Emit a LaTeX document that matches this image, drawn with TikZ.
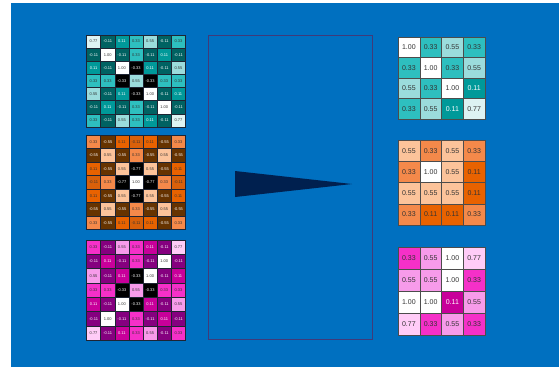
\documentclass[tikz,border=0pt]{standalone}
\usepackage{fontspec}
\setsansfont{Liberation Sans}
\usetikzlibrary{positioning}
\definecolor{slideBlue}{HTML}{0070C0}
\definecolor{frameLine}{HTML}{3F3A7A}
\definecolor{wedgeNavy}{HTML}{00204F}
\definecolor{gridLine}{HTML}{1E2433}
\definecolor{cellText}{HTML}{333333}
% teal map
\definecolor{tealA}{HTML}{DDF3F3}
\definecolor{tealB}{HTML}{9BDCDC}
\definecolor{tealC}{HTML}{2EBFBF}
\definecolor{tealD}{HTML}{009999}
\definecolor{tealE}{HTML}{006262}
% orange map
\definecolor{orangeB}{HTML}{FCC39A}
\definecolor{orangeC}{HTML}{F4894A}
\definecolor{orangeD}{HTML}{E86200}
\definecolor{orangeE}{HTML}{D9600A}
\definecolor{orangeF}{HTML}{663300}
% magenta map
\definecolor{pinkA}{HTML}{FFCCF7}
\definecolor{pinkB}{HTML}{F79BEA}
\definecolor{pinkC}{HTML}{F530C8}
\definecolor{pinkD}{HTML}{C8009A}
\definecolor{pinkE}{HTML}{85007F}
\tikzset{
  cell/.style={draw=gridLine, line width=0.5pt, inner sep=0pt,
    text=cellText, font=\sffamily},
  small cell/.style={cell, minimum width=14.14pt,
    font=\sffamily\fontsize{4}{4.5}\selectfont},
  big cell/.style={cell, draw=black!70, minimum width=21.75pt,
    font=\sffamily\fontsize{7}{8}\selectfont},
  teal 1.00/.style={fill=white},
  teal 0.77/.style={fill=tealA},
  teal 0.55/.style={fill=tealB},
  teal 0.33/.style={fill=tealC},
  teal 0.11/.style={fill=tealD, text=white},
  teal -0.11/.style={fill=tealE, text=white},
  teal -0.33/.style={fill=black, text=white},
  orange 1.00/.style={fill=white},
  orange 0.55/.style={fill=orangeB},
  orange 0.33/.style={fill=orangeC},
  orange 0.11/.style={fill=orangeD},
  orange -0.11/.style={fill=orangeE},
  orange -0.55/.style={fill=orangeF, text=white},
  orange -0.77/.style={fill=black, text=white},
  pink 1.00/.style={fill=white},
  pink 0.77/.style={fill=pinkA},
  pink 0.55/.style={fill=pinkB},
  pink 0.33/.style={fill=pinkC},
  pink 0.11/.style={fill=pinkD, text=white},
  pink -0.11/.style={fill=pinkE, text=white},
  pink -0.33/.style={fill=black, text=white}
}

\begin{document}
\begin{tikzpicture}[x=1pt, y=-1pt]
  \useasboundingbox (0,0) rectangle (559,367);
  \fill[slideBlue] (11,3) rectangle (559,367);

  % convolved maps
  \foreach \row [count=\r] in {
      {0.77,-0.11,0.11,0.33,0.55,-0.11,0.33},
      {-0.11,1.00,-0.11,0.33,-0.11,0.11,-0.11},
      {0.11,-0.11,1.00,-0.33,0.11,-0.11,0.55},
      {0.33,0.33,-0.33,0.55,-0.33,0.33,0.33},
      {0.55,-0.11,0.11,-0.33,1.00,-0.11,0.11},
      {-0.11,0.11,-0.11,0.33,-0.11,1.00,-0.11},
      {0.33,-0.11,0.55,0.33,0.11,-0.11,0.77}}
    \foreach \v [count=\c] in \row
      \node[small cell, teal \v, minimum height=13.14pt] (conv1-\r-\c)
        at ({86.5+(\c-0.5)*14.14}, {35+(\r-0.5)*13.14}) {\v};

  \foreach \row [count=\r] in {
      {0.33,-0.55,0.11,-0.11,0.11,-0.55,0.33},
      {-0.55,0.55,-0.55,0.33,-0.55,0.55,-0.55},
      {0.11,-0.55,0.55,-0.77,0.55,-0.55,0.11},
      {-0.11,0.33,-0.77,1.00,-0.77,0.33,-0.11},
      {0.11,-0.55,0.55,-0.77,0.55,-0.55,0.11},
      {-0.55,0.55,-0.55,0.33,-0.55,0.55,-0.55},
      {0.33,-0.55,0.11,-0.11,0.11,-0.55,0.33}}
    \foreach \v [count=\c] in \row
      \node[small cell, orange \v, minimum height=13.5pt] (conv2-\r-\c)
        at ({86.5+(\c-0.5)*14.14}, {135+(\r-0.5)*13.5}) {\v};

  \foreach \row [count=\r] in {
      {0.33,-0.11,0.55,0.33,0.11,-0.11,0.77},
      {-0.11,0.11,-0.11,0.33,-0.11,1.00,-0.11},
      {0.55,-0.11,0.11,-0.33,1.00,-0.11,0.11},
      {0.33,0.33,-0.33,0.55,-0.33,0.33,0.33},
      {0.11,-0.11,1.00,-0.33,0.11,-0.11,0.55},
      {-0.11,1.00,-0.11,0.33,-0.11,0.11,-0.11},
      {0.77,-0.11,0.11,0.33,0.55,-0.11,0.33}}
    \foreach \v [count=\c] in \row
      \node[small cell, pink \v, minimum height=14.3pt] (conv3-\r-\c)
        at ({86.5+(\c-0.5)*14.14}, {240+(\r-0.5)*14.3}) {\v};

  % pooling step
  \node[draw=frameLine, line width=0.9pt, minimum width=164pt,
    minimum height=304pt, inner sep=0pt] (stage) at (290,187) {};
  \fill[wedgeNavy] (235,171) -- (235,197) -- (352,184) -- cycle;

  % pooled maps
  \foreach \row [count=\r] in {
      {1.00,0.33,0.55,0.33},
      {0.33,1.00,0.33,0.55},
      {0.55,0.33,1.00,0.11},
      {0.33,0.55,0.11,0.77}}
    \foreach \v [count=\c] in \row
      \node[big cell, teal \v, minimum height=20.5pt] (pool1-\r-\c)
        at ({398+(\c-0.5)*21.75}, {37+(\r-0.5)*20.5}) {\v};

  \foreach \row [count=\r] in {
      {0.55,0.33,0.55,0.33},
      {0.33,1.00,0.55,0.11},
      {0.55,0.55,0.55,0.11},
      {0.33,0.11,0.11,0.33}}
    \foreach \v [count=\c] in \row
      \node[big cell, orange \v, minimum height=21.25pt] (pool2-\r-\c)
        at ({398+(\c-0.5)*21.75}, {140+(\r-0.5)*21.25}) {\v};

  \foreach \row [count=\r] in {
      {0.33,0.55,1.00,0.77},
      {0.55,0.55,1.00,0.33},
      {1.00,1.00,0.11,0.55},
      {0.77,0.33,0.55,0.33}}
    \foreach \v [count=\c] in \row
      \node[big cell, pink \v, minimum height=22pt] (pool3-\r-\c)
        at ({398+(\c-0.5)*21.75}, {247+(\r-0.5)*22}) {\v};
\end{tikzpicture}
\end{document}
